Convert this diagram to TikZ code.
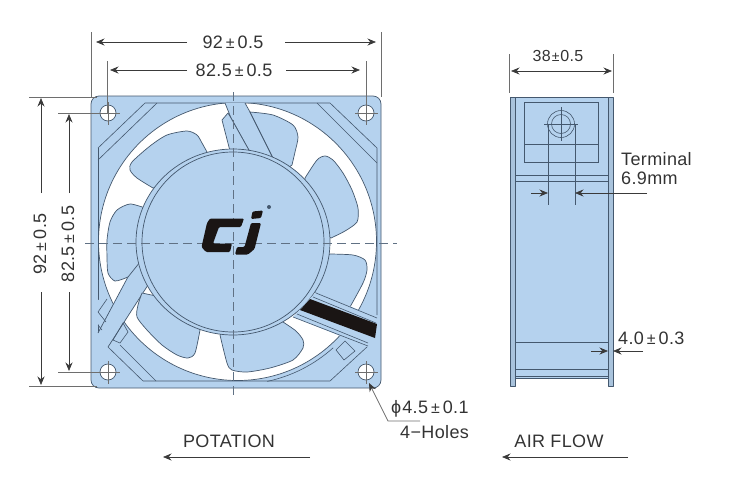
\documentclass[tikz,border=0pt]{standalone}
\usepackage{fontspec}
\setmainfont[LetterSpace=2]{Liberation Sans}
\usetikzlibrary{arrows.meta}
\definecolor{fanblue}{HTML}{B5D2EE}
\definecolor{fanedge}{HTML}{A9C3DC}
\definecolor{fanline}{HTML}{44586E}
\definecolor{dimline}{HTML}{3A3A3A}
\definecolor{extline}{HTML}{6E6E6E}
\definecolor{lbl}{HTML}{333333}
\definecolor{cjblack}{HTML}{1A1514}
\tikzset{
  x=1pt,y=-1pt,
  part/.style={draw=fanline,line width=.7pt,line join=round},
  blade/.style={part,fill=fanblue},
  thin part/.style={draw=fanline,line width=.6pt},
  center mark/.style={draw=fanline!85,line width=.7pt,dash pattern=on 9pt off 5pt},
  extension/.style={draw=extline,line width=.7pt},
  dimension/.style={draw=dimline,line width=.7pt},
  dimarrow/.style={dimension,-{Stealth[length=8.5pt,width=7pt]}},
  dimboth/.style={dimension,{Stealth[length=8.5pt,width=7pt]}-{Stealth[length=8.5pt,width=7pt]}},
  dimtext/.style={text=lbl,font=\fontsize{18}{20}\selectfont,inner sep=0pt},
  logo/.style={fill=cjblack,draw=none,rounded corners=1.2pt},
}
\newcommand{\plusminus}[2]{#1\kern3pt{\fontsize{16}{18}\selectfont ±}\kern3pt#2}
\begin{document}
\begin{tikzpicture}
\useasboundingbox (0,0) rectangle (749,480);

% ---------- front view ----------
\draw[part,fill=fanblue,rounded corners=8pt] (91,96) rectangle (381,388);
\begin{scope}
  \clip (98,103) rectangle (377,381);
  \fill[white] (237.5,241.5) circle[radius=139];
  \draw[part] (237.5,241.5) circle[radius=139];
\end{scope}
\draw[thin part] (237.5,241.5) ++(48:143) arc[start angle=48,end angle=78,radius=143];

% corner frame lines
\draw[thin part] (98,148) -- (145,103) -- (330,103) -- (377,148) -- (377,315);
\draw[thin part] (98,160) -- (157,103);
\draw[thin part] (317,103) -- (377,163);
\draw[thin part] (98,148) -- (98,333);
\draw[thin part] (143,381) -- (330,381) -- (368,346);
\draw[thin part] (108,347) -- (143,381);
\draw[thin part] (156,381) -- (120,345);

% struts
\fill[fanblue] (225,103) -- (245,103) -- (273,158) -- (250,152) -- (231,118) -- cycle;
\draw[part] (225,103) -- (231,118) -- (250,152);
\draw[part] (245,103) -- (250,112) -- (273,158);
\fill[fanblue] (137,260) -- (98,333) -- (108,347) -- (148,285) -- (170,270) -- cycle;
\fill[fanblue] (97,300) -- (107,299) -- (100,318) -- (97,332) -- cycle;
\draw[part] (137,260) -- (98,333);
\draw[part] (108,347) -- (148,285);
\draw[thin part] (98,312) -- (107,299);
\draw[thin part] (98,312) -- (106,322);
\draw[thin part] (98,325) -- (102,330);
\draw[thin part] (113,340) -- (123,323) -- (128,332) -- (120,343) -- cycle;

% blades
\draw[blade] plot[smooth,tension=.45] coordinates {(153,188) (137,178) (130,170) (132,162) (150,146) (167,135) (187,131) (197,135) (202,143) (207,152)} -- (200,175) -- cycle;
\draw[blade] plot[smooth,tension=.45] coordinates {(145,208) (130,204) (117,210) (110,222) (107,240) (107,257) (108,273) (115,281) (128,277)} -- (140,262) -- (160,240) -- cycle;
\draw[blade] plot[smooth,tension=.45] coordinates {(250,112) (273,115) (293,125) (298,137) (295,152) (292,165)} -- (285,170) -- (273,158) -- cycle;
\draw[blade] (228,113) -- (222,120) -- (230,151) -- (240,160) -- (250,152) -- (231,118) -- cycle;
\draw[blade] plot[smooth,tension=.45] coordinates {(305,178) (317,160) (325,156) (333,160) (343,173) (352,190) (358,208) (357,222) (345,231) (331,238)} -- (300,220) -- cycle;
\draw[blade] plot[smooth,tension=.45] coordinates {(330,254) (353,255) (365,260) (367,270) (363,283) (350,307)} -- (316,293) -- (300,270) -- cycle;
\draw[blade] plot[smooth,tension=.45] coordinates {(283,322) (296,331) (303,340) (303,348) (293,360) (270,368) (247,372) (232,370) (227,363) (220,335)} -- (250,310) -- cycle;
\draw[blade] plot[smooth,tension=.45] coordinates {(142,293) (138,305) (137,317) (147,330) (162,345) (177,355) (188,358) (195,353) (200,330)} -- (175,300) -- cycle;

% hub
\draw[part,fill=fanblue] (233,242) ellipse[x radius=97,y radius=93];
\draw[part] (233,242) ellipse[x radius=91,y radius=90];

% right band
\fill[fanblue] (316,292) -- (378,318) -- (378,344) -- (368,347) -- (293,317) -- cycle;
\draw[thin part] (316,293) -- (377,318);
\draw[thin part] (313,297) -- (376,323);
\fill[cjblack] (310,299) -- (377,324) -- (375,338) -- (300,310) -- cycle;
\draw[thin part] (297,314) -- (368,343);
\draw[thin part] (293,317) -- (368,346);
\draw[thin part] (345,341) -- (355,351) -- (344,360) -- (336,350) -- cycle;

% center marks
\draw[center mark] (85,243) -- (397,243);
\draw[center mark] (233,92) -- (233,397);

% logo
\fill[logo] (210,218.5) -- (244,218.5) -- (241,227) -- (219,227) -- (213,243.5) -- (232,243.5) -- (230,252) -- (206,252) -- (201.5,247) -- (207,223) -- cycle;
\fill[logo] (252.5,211.5) -- (263,210.5) -- (261,218) -- (251,219) -- cycle;
\fill[logo] (251,223) -- (261,223) -- (254.5,249) -- (248,254.5) -- (235,254.5) -- (237,247) -- (244.5,247) -- cycle;
\fill[fanline] (269,207) circle[radius=2];

% mounting holes
\foreach \hx/\hy in {108/113,366/113,108/372,366/372}{
  \draw[part,fill=white] (\hx,\hy) circle[radius=8];
  \draw[extension] (\hx-11,\hy) -- (\hx+12,\hy);
  \draw[extension] (\hx,\hy-11) -- (\hx,\hy+12);
}

% dimensions: top
\draw[extension] (91,32) -- (91,97);
\draw[extension] (381,32) -- (381,97);
\draw[extension] (107,61) -- (107,113);
\draw[extension] (366,61) -- (366,113);
\node[dimtext] (dimTopA) at (233,42) {\plusminus{92}{0.5}};
\node[dimtext] (dimTopB) at (234,70) {\plusminus{82.5}{0.5}};
\draw[dimarrow] (187,42) -- (96,42);
\draw[dimarrow] (285,42) -- (376,42);
\draw[dimarrow] (187,70) -- (110,70);
\draw[dimarrow] (286,70) -- (360,70);

% dimensions: left
\draw[extension] (29,97) -- (97,97);
\draw[extension] (29,386) -- (97,386);
\draw[extension] (58,113) -- (108,113);
\draw[extension] (58,372) -- (108,372);
\node[dimtext,rotate=90] (dimLeftA) at (40,244) {\plusminus{92}{0.5}};
\node[dimtext,rotate=90] (dimLeftB) at (68,244) {\plusminus{82.5}{0.5}};
\draw[dimarrow] (41,193) -- (41,98);
\draw[dimarrow] (41,292) -- (41,385);
\draw[dimarrow] (69,193) -- (69,114);
\draw[dimarrow] (69,292) -- (69,371);

% holes leader
\node[dimtext,anchor=base west] (holeDia) at (391,413) {ϕ\kern1pt\plusminus{4.5}{0.1}};
\node[dimtext,anchor=base west] (holeCount) at (400,438) {4−Holes};
\coordinate (leadEnd) at (420,421);
\coordinate (leadBend) at (388,421);
\coordinate (leadTip) at (369,383);
\draw[extension,-{Stealth[length=8.5pt,width=7pt,color=dimline]}] (leadEnd) -- (leadBend) -- (leadTip);

% rotation / air flow
\node[dimtext] (potation) at (229,441) {POTATION};
\coordinate (potA) at (310,457);
\coordinate (potB) at (163,457);
\draw[dimarrow] (potA) -- (potB);
\node[dimtext] (airflow) at (559,441) {AIR FLOW};
\coordinate (airA) at (628,457);
\coordinate (airB) at (502,457);
\draw[dimarrow] (airA) -- (airB);

% ---------- side view ----------
\fill[fanedge] (510,97) rectangle (515,386);
\fill[fanedge] (608,97) rectangle (613,386);
\fill[fanblue] (515,97) rectangle (608,378);
\draw[part] (510,97) -- (613,97) -- (613,386) -- (608,386) -- (608,378) -- (515,378) -- (515,386) -- (510,386) -- cycle;
\draw[thin part] (515,97) -- (515,378);
\draw[thin part] (608,97) -- (608,378);
\draw[thin part] (515,175) -- (608,175);
\draw[thin part] (515,181) -- (608,181);
\draw[thin part] (515,342) -- (608,342);
\draw[thin part] (515,369) -- (608,369);
\draw[thin part] (515,376) -- (608,376);
\draw[thin part] (524,102) rectangle (598,162);
\draw[thin part] (524,144) -- (598,144);
\draw[thin part] (561,124) circle[radius=13.5];
\draw[thin part] (561,124) circle[radius=9.5];
\draw[thin part] (544,124) -- (578,124);
\draw[thin part] (561,107) -- (561,141);
\draw[thin part] (548,124) -- (548,205);
\draw[thin part] (575,124) -- (575,205);

% side dimensions
\draw[extension] (509,54) -- (509,93);
\draw[extension] (613,54) -- (613,93);
\node[text=lbl,inner sep=0pt,font=\fontsize{16}{18}\selectfont] (dimDepth) at (558,56) {38\kern1pt{\fontsize{14}{16}\selectfont ±}\kern1pt 0.5};
\draw[dimboth] (511,71) -- (612,71);
\draw[dimarrow] (531,193) -- (548,193);
\draw[dimarrow] (647,193) -- (575,193);
\node[dimtext,anchor=base west] (terminalA) at (621,165) {Terminal};
\node[dimtext,anchor=base west] (terminalB) at (621,184) {6.9mm};
\draw[dimarrow] (591,351) -- (608,351);
\draw[dimarrow] (643,351) -- (613,351);
\node[dimtext,anchor=base west] (dimWall) at (618,344) {\plusminus{4.0}{0.3}};
\end{tikzpicture}
\end{document}
